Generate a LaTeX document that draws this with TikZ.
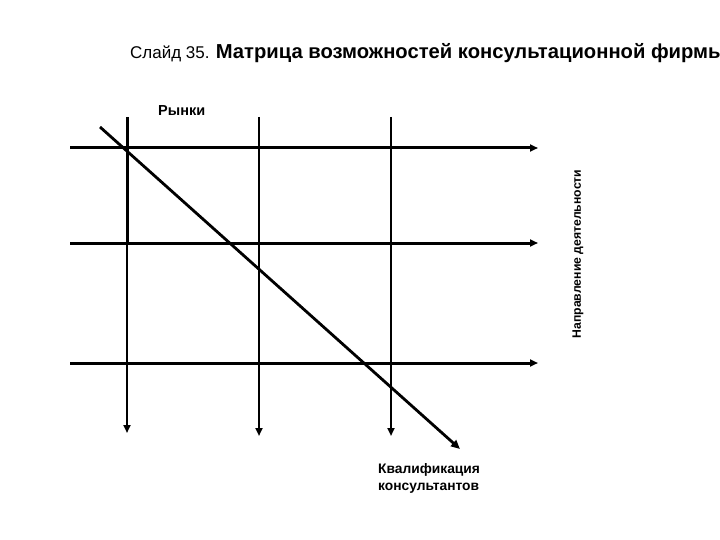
\documentclass[tikz,border=0pt]{standalone}
\usepackage{fontspec}
\setmainfont{Liberation Sans}
\usetikzlibrary{arrows.meta}
\begin{document}
\begin{tikzpicture}[x=1pt,y=-1pt,
  hline/.style={line width=3pt,-{Triangle[length=8pt,width=7pt]}},
  vline/.style={line width=2.2pt,-{Triangle[length=8pt,width=7pt]}},
  dline/.style={line width=2.8pt,-{Triangle[length=9pt,width=8pt]}},
  lbl/.style={inner sep=0pt,font=\bfseries}]
\useasboundingbox (0,0) rectangle (720,540);
\clip (0,0) rectangle (720,540);
\node[anchor=base west,inner sep=0pt,font=\fontsize{17}{20}\selectfont] (title) at (130,59) {Слайд 35. {\bfseries\fontsize{20.2}{24}\selectfont Матрица возможностей консультационной фирмы}};
% vertical
\coordinate (v1s) at (127,117); \coordinate (v1e) at (127,433);
\coordinate (v2s) at (259,117); \coordinate (v2e) at (259,436);
\coordinate (v3s) at (391,117); \coordinate (v3e) at (391,436);
\draw[vline] (v1s) -- (v1e);
\draw[line width=3pt] (v1s) -- (127,243);
\draw[vline] (v2s) -- (v2e);
\draw[vline] (v3s) -- (v3e);
% horizontal
\coordinate (h1s) at (70,148); \coordinate (h1e) at (538,148);
\coordinate (h2s) at (70,243); \coordinate (h2e) at (538,243);
\coordinate (h3s) at (70,363); \coordinate (h3e) at (538,363);
\draw[hline] (h1s) -- (h1e);
\draw[hline] (h2s) -- (h2e);
\draw[hline] (h3s) -- (h3e);
% diagonal
\coordinate (ds) at (100,127); \coordinate (de) at (460,449);
\draw[dline] (ds) -- (de);
\node[lbl,anchor=base west,font=\bfseries\fontsize{14.5}{16}\selectfont] (mk) at (158,116) {Рынки};
\node[lbl,rotate=90,font=\bfseries\fontsize{12.2}{14}\selectfont] (nap) at (578,254) {Направление деятельности};
\node[lbl,anchor=base west,font=\bfseries\fontsize{13.8}{17}\selectfont] (kv1) at (378,473) {Квалификация};
\node[lbl,anchor=base west,font=\bfseries\fontsize{13.8}{17}\selectfont] (kv2) at (378,490) {консультантов};
\end{tikzpicture}
\end{document}
